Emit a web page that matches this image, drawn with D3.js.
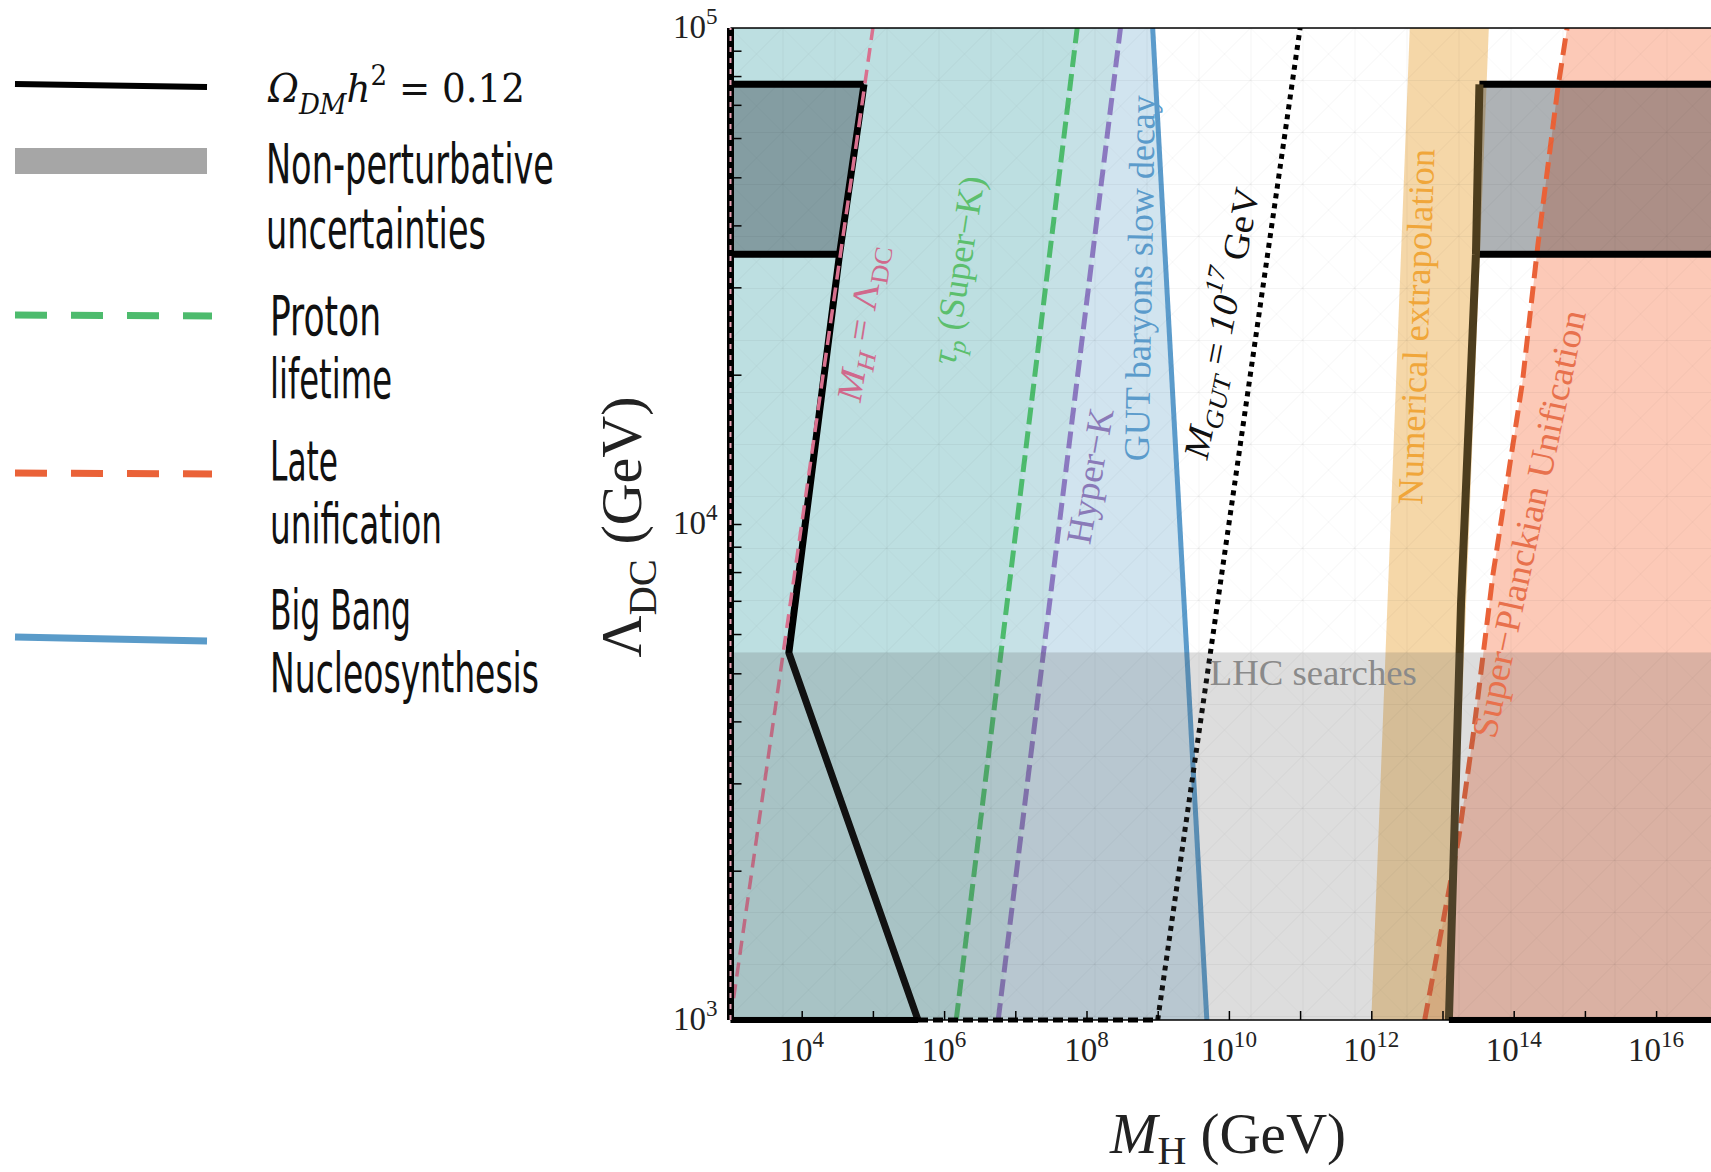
<!DOCTYPE html>
<html>
<head>
<meta charset="utf-8">
<script src="https://cdn.jsdelivr.net/npm/d3@7"></script>
<style>
body { margin: 0; background: #fff; }
svg { display: block; }
</style>
</head>
<body>
<script>
// values, everything in GeV as [M_H, Lambda_DC]
var xTickValues = [1e3, 1e4, 1e5, 1e6, 1e7, 1e8, 1e9, 1e10, 1e11, 1e12, 1e13, 1e14, 1e15, 1e16, 1e17];
var xLabelValues = [1e4, 1e6, 1e8, 1e10, 1e12, 1e14, 1e16];
var yTickValues = [2e3, 3e3, 4e3, 5e3, 6e3, 7e3, 8e3, 9e3, 1e4, 2e4, 3e4, 4e4, 5e4, 6e4, 7e4, 8e4, 9e4];
var yLabelValues = [1e3, 1e4, 1e5];

var omegaBand = [3.5e4, 7.7e4];
var lhcLimit = 5.5e3;
var omegaLeft = [[7.5e4, 7.7e4], [3.4e4, 3.5e4], [6.6e3, 5.5e3], [4.3e5, 1e3]];
var omegaRight = [[1.23e13, 1e3], [1.82e13, 6.9e3], [2.95e13, 3.5e4], [3.3e13, 7.7e4]];
var diagonal = [[1e3, 1e3], [1e5, 1e5]];
var superK = [[1.48e6, 1e3], [7.4e7, 1e5]];
var hyperK = [[5.75e6, 1e3], [3.0e8, 1e5]];
var bbn = [[4.9e9, 1e3], [8.5e8, 1e5]];
var mGut = [[1e9, 1e3], [1e11, 1e5]];
var lateUnif = [[5.62e12, 1e3], [1.7e13, 2.34e3], [2.75e13, 3.83e3], [5.13e13, 7.93e3],
                [1.32e14, 1.92e4], [2.19e14, 3.66e4], [4.17e14, 7.57e4], [5.62e14, 1e5]];
var extrapLeft = [[1e12, 1e3], [3.47e12, 1e5]];
var extrapRight = [[1.26e13, 1e3], [4.47e13, 1e5]];
var bottomDashed = [[4.3e5, 1e3], [1e9, 1e3]];

var X0 = 1e3, X1 = 1e17, Y0 = 1e3, Y1 = 1e5;

var W = 1711, H = 1172;
var svg = d3.select('body').append('svg').attr('width', W).attr('height', H);

var x = d3.scaleLog().domain([X0, X1]).range([730.5, 1727.3]);
var y = d3.scaleLog().domain([Y0, Y1]).range([1020, 28]);

var line = d3.line().x(d => x(d[0])).y(d => y(d[1]));
var poly = pts => line(pts) + 'Z';

var defs = svg.append('defs');
defs.append('clipPath').attr('id', 'plot')
    .append('rect').attr('x', x(X0)).attr('y', y(Y1)).attr('width', W - x(X0)).attr('height', y(Y0) - y(Y1));

var pat = defs.append('pattern').attr('id', 'hatch').attr('patternUnits', 'userSpaceOnUse')
    .attr('width', 52).attr('height', 52).attr('x', x(X0)).attr('y', y(Y1));
pat.append('path').attr('d', 'M0,0.5H52M0.5,0V52').attr('stroke', '#000').attr('stroke-opacity', 0.045).attr('fill', 'none');
pat.append('path').attr('d', 'M0,52L52,0').attr('stroke', '#000').attr('stroke-opacity', 0.045).attr('fill', 'none');
pat.append('path').attr('d', 'M0,0L52,52').attr('stroke', '#000').attr('stroke-opacity', 0.025).attr('fill', 'none');

var g = svg.append('g').attr('clip-path', 'url(#plot)');

// excluded regions
g.append('path').attr('d', poly([[X0, Y0]].concat(bbn, [[X0, Y1]]))).attr('fill', '#d1e4ef');
g.append('path').attr('d', poly([[X0, Y0]].concat(hyperK, [[X0, Y1]]))).attr('fill', '#c6e1e6');
g.append('path').attr('d', poly([[X0, Y0]].concat(superK, [[X0, Y1]]))).attr('fill', '#bddfe1');
g.append('path').attr('d', poly(lateUnif.concat([[X1, Y1], [X1, Y0]]))).attr('fill', '#fcc9b7');
g.append('path').attr('d', poly(extrapLeft.concat(extrapRight.slice().reverse())))
    .attr('fill', '#eebd6e').attr('fill-opacity', 0.6);

// non-perturbative boxes
g.append('path').attr('d', poly([[X0, omegaBand[0]], omegaLeft[1], omegaLeft[0], [X0, omegaBand[1]]]))
    .attr('fill', '#1e2a33').attr('fill-opacity', 0.36);
g.append('path').attr('d', poly([omegaRight[2], omegaRight[3], [X1, omegaBand[1]], [X1, omegaBand[0]]]))
    .attr('fill', '#1e2a33').attr('fill-opacity', 0.36);

function drawLine(pts, color, width, dash, cap) {
    return g.append('path').attr('d', line(pts)).attr('fill', 'none')
        .attr('stroke', color).attr('stroke-width', width)
        .attr('stroke-dasharray', dash || null)
        .attr('stroke-linecap', cap || 'butt').attr('stroke-linejoin', 'round');
}

drawLine(superK, '#4dbb6d', 5, '17 7');
drawLine(hyperK, '#8b79c0', 5, '17 7');
drawLine(bbn, '#5b9bcb', 5);
drawLine(mGut, '#000', 5, '5 5');
drawLine(lateUnif, '#ea6238', 5, '17 8');

drawLine(omegaLeft, '#000', 7);
drawLine([[X0, omegaBand[1]], omegaLeft[0]], '#000', 7);
drawLine([[X0, omegaBand[0]], omegaLeft[1]], '#000', 7);
drawLine([omegaRight[3], [X1, omegaBand[1]]], '#000', 7);
drawLine([omegaRight[2], [X1, omegaBand[0]]], '#000', 7);
drawLine(omegaRight, '#4d3d1d', 8);
drawLine(diagonal, '#d9718f', 3.5, '14 8');

// LHC searches
g.append('path').attr('d', poly([[X0, Y0], [X0, lhcLimit], [X1, lhcLimit], [X1, Y0]]))
    .attr('fill', '#555').attr('fill-opacity', 0.2);

g.append('rect').attr('x', x(X0)).attr('y', y(Y1)).attr('width', W).attr('height', y(Y0) - y(Y1))
    .attr('fill', 'url(#hatch)');

// frame
var fr = svg.append('g');
fr.append('line').attr('x1', x(X0)).attr('x2', W).attr('y1', y(Y1)).attr('y2', y(Y1)).attr('stroke', '#000').attr('stroke-width', 1.5);
fr.append('line').attr('x1', x(X0)).attr('x2', W).attr('y1', y(Y0)).attr('y2', y(Y0)).attr('stroke', '#000').attr('stroke-width', 1.5);

fr.append('g').attr('transform', `translate(0,${y(Y0)})`)
    .call(d3.axisBottom(x).tickValues(xTickValues).tickSize(-9).tickFormat(''));
fr.append('g').attr('transform', `translate(${x(X0)},0)`)
    .call(d3.axisLeft(y).tickValues(yTickValues).tickSize(-11).tickFormat(''));
fr.selectAll('.domain').remove();
fr.selectAll('.tick line').attr('stroke', '#000').attr('stroke-width', 1.5);

function edge(pts, color, width, dash) {
    fr.append('path').attr('d', line(pts)).attr('fill', 'none').attr('stroke', color)
        .attr('stroke-width', width).attr('stroke-dasharray', dash || null);
}
edge([[X0, Y0], [omegaLeft[3][0], Y0]], '#000', 6);
edge(bottomDashed, '#000', 5, '10 5');
edge([[omegaRight[0][0], Y0], [X1, Y0]], '#000', 6);
edge([[X0, Y0], [X0, Y1]], '#000', 7);
edge([[X0, Y0], [X0, Y1]], '#e9a3b6', 2, '5 6');

function rich(sel, parts, fs, subShift) {
    var shift = 0;
    parts.forEach(function(p) {
        var target = p.sub ? fs * (subShift || 0.3) : p.sup ? -fs * 0.42 : 0;
        var ts = sel.append('tspan').text(p.t).attr('dy', target - shift);
        shift = target;
        if (p.sub || p.sup) ts.attr('font-size', fs * 0.7);
        if (p.i) ts.attr('font-style', 'italic');
    });
    return sel;
}

var serif = "'Liberation Serif','DejaVu Serif',serif";

// tick labels
xLabelValues.forEach(function(v) {
    var t = svg.append('text').attr('x', x(v)).attr('y', 1061).attr('text-anchor', 'middle')
        .attr('font-family', serif).attr('font-size', 33).attr('fill', '#222');
    rich(t, [{ t: '10' }, { t: String(Math.round(Math.log10(v))), sup: true }], 33);
});
yLabelValues.forEach(function(v) {
    var t = svg.append('text').attr('x', x(X0) - 13).attr('y', y(v) + 10).attr('text-anchor', 'end')
        .attr('font-family', serif).attr('font-size', 33).attr('fill', '#222');
    rich(t, [{ t: '10' }, { t: String(Math.round(Math.log10(v))), sup: true }], 33);
});

// axis titles
rich(svg.append('text').attr('x', 1228).attr('y', 1153).attr('text-anchor', 'middle')
    .attr('font-family', serif).attr('font-size', 57).attr('fill', '#222'),
    [{ t: 'M', i: true }, { t: 'H', sub: true }, { t: ' (GeV)' }], 57, 0.2);
rich(svg.append('text').attr('transform', 'translate(641,527) rotate(-90)').attr('text-anchor', 'middle')
    .attr('font-family', serif).attr('font-size', 58).attr('fill', '#222'),
    [{ t: 'Λ' }, { t: 'DC', sub: true }, { t: ' (GeV)' }], 58, 0.25);

// annotations in the plot
var notes = [
    { at: [6.8e4, 2.54e4], rot: -81, color: '#d0698c', fs: 36, len: 158, parts: [{ t: 'M', i: true }, { t: 'H', sub: true, i: true }, { t: ' = Λ' }, { t: 'DC', sub: true }] },
    { at: [1.57e6, 3.25e4], rot: -81, color: '#5cbf6e', fs: 36, len: 190, parts: [{ t: 'τ', i: true }, { t: 'p', sub: true, i: true }, { t: ' (Super−K)' }] },
    { at: [1.12e8, 1.25e4], rot: -80, color: '#8a7ab8', fs: 36, len: 137, parts: [{ t: 'Hyper−K' }] },
    { at: [5.6e8, 3.13e4], rot: -89, color: '#5b9bcb', fs: 36, len: 366, parts: [{ t: 'GUT baryons slow decay' }] },
    { at: [7.9e9, 2.54e4], rot: -79, color: '#111', fs: 36, len: 275, parts: [{ t: 'M', i: true }, { t: 'GUT', sub: true, i: true }, { t: ' =  ' }, { t: '10', i: true }, { t: '17', sup: true, i: true }, { t: '  GeV' }] },
    { at: [4.3e12, 2.5e4], rot: -88, color: '#f0a63a', fs: 36, len: 356, parts: [{ t: 'Numerical extrapolation' }] },
    { at: [1.64e14, 1e4], rot: -78, color: '#e8714d', fs: 36, len: 436, parts: [{ t: 'Super−Planckian Unification' }] }
];
notes.forEach(function(n) {
    var t = svg.append('text')
        .attr('transform', `translate(${x(n.at[0])},${y(n.at[1])}) rotate(${n.rot})`)
        .attr('text-anchor', 'middle').attr('dominant-baseline', 'central')
        .attr('font-family', serif).attr('font-size', n.fs).attr('fill', n.color)
        .attr('textLength', n.len).attr('lengthAdjust', 'spacingAndGlyphs');
    rich(t, n.parts, n.fs);
});
svg.append('text').attr('x', x(5.4e9)).attr('y', y(4.73e3)).attr('font-family', serif)
    .attr('font-size', 36).attr('fill', '#8a8a8a').attr('textLength', 207).attr('lengthAdjust', 'spacingAndGlyphs')
    .text('LHC searches');

// legend
var lg = svg.append('g');
lg.append('line').attr('x1', 15).attr('y1', 84).attr('x2', 207).attr('y2', 87).attr('stroke', '#000').attr('stroke-width', 6);
lg.append('rect').attr('x', 15).attr('y', 148).attr('width', 192).attr('height', 26).attr('fill', '#a6a6a6');
lg.append('line').attr('x1', 15).attr('y1', 315).attr('x2', 212).attr('y2', 316).attr('stroke', '#4dbb6d').attr('stroke-width', 7).attr('stroke-dasharray', '32 24');
lg.append('line').attr('x1', 15).attr('y1', 473).attr('x2', 212).attr('y2', 474).attr('stroke', '#ea6238').attr('stroke-width', 7).attr('stroke-dasharray', '32 24');
lg.append('line').attr('x1', 15).attr('y1', 637).attr('x2', 207).attr('y2', 641).attr('stroke', '#5a9bc9').attr('stroke-width', 7);

rich(lg.append('text').attr('x', 268).attr('y', 102).attr('font-family', "'DejaVu Serif','Liberation Serif',serif")
    .attr('font-size', 40).attr('fill', '#111').attr('textLength', 257).attr('lengthAdjust', 'spacingAndGlyphs'),
    [{ t: 'Ω', i: true }, { t: 'DM', sub: true, i: true }, { t: 'h', i: true }, { t: '2', sup: true }, { t: '  = 0.12' }], 40);

var legendLines = [
    ['Non-perturbative', 266, 183, 288],
    ['uncertainties', 266, 248, 220],
    ['Proton', 270, 335, 111],
    ['lifetime', 270, 398, 122],
    ['Late', 270, 480, 68],
    ['unification', 270, 543, 172],
    ['Big Bang', 270, 629, 141],
    ['Nucleosynthesis', 270, 692, 269]
];
lg.selectAll('text.lab').data(legendLines).enter().append('text').attr('class', 'lab')
    .attr('x', d => d[1]).attr('y', d => d[2])
    .attr('font-family', "'DejaVu Sans Condensed','Liberation Sans Narrow','Roboto','Noto Sans',sans-serif")
    .attr('font-size', 56).attr('fill', '#111')
    .attr('textLength', d => d[3]).attr('lengthAdjust', 'spacingAndGlyphs')
    .text(d => d[0]);
</script>
</body>
</html>
